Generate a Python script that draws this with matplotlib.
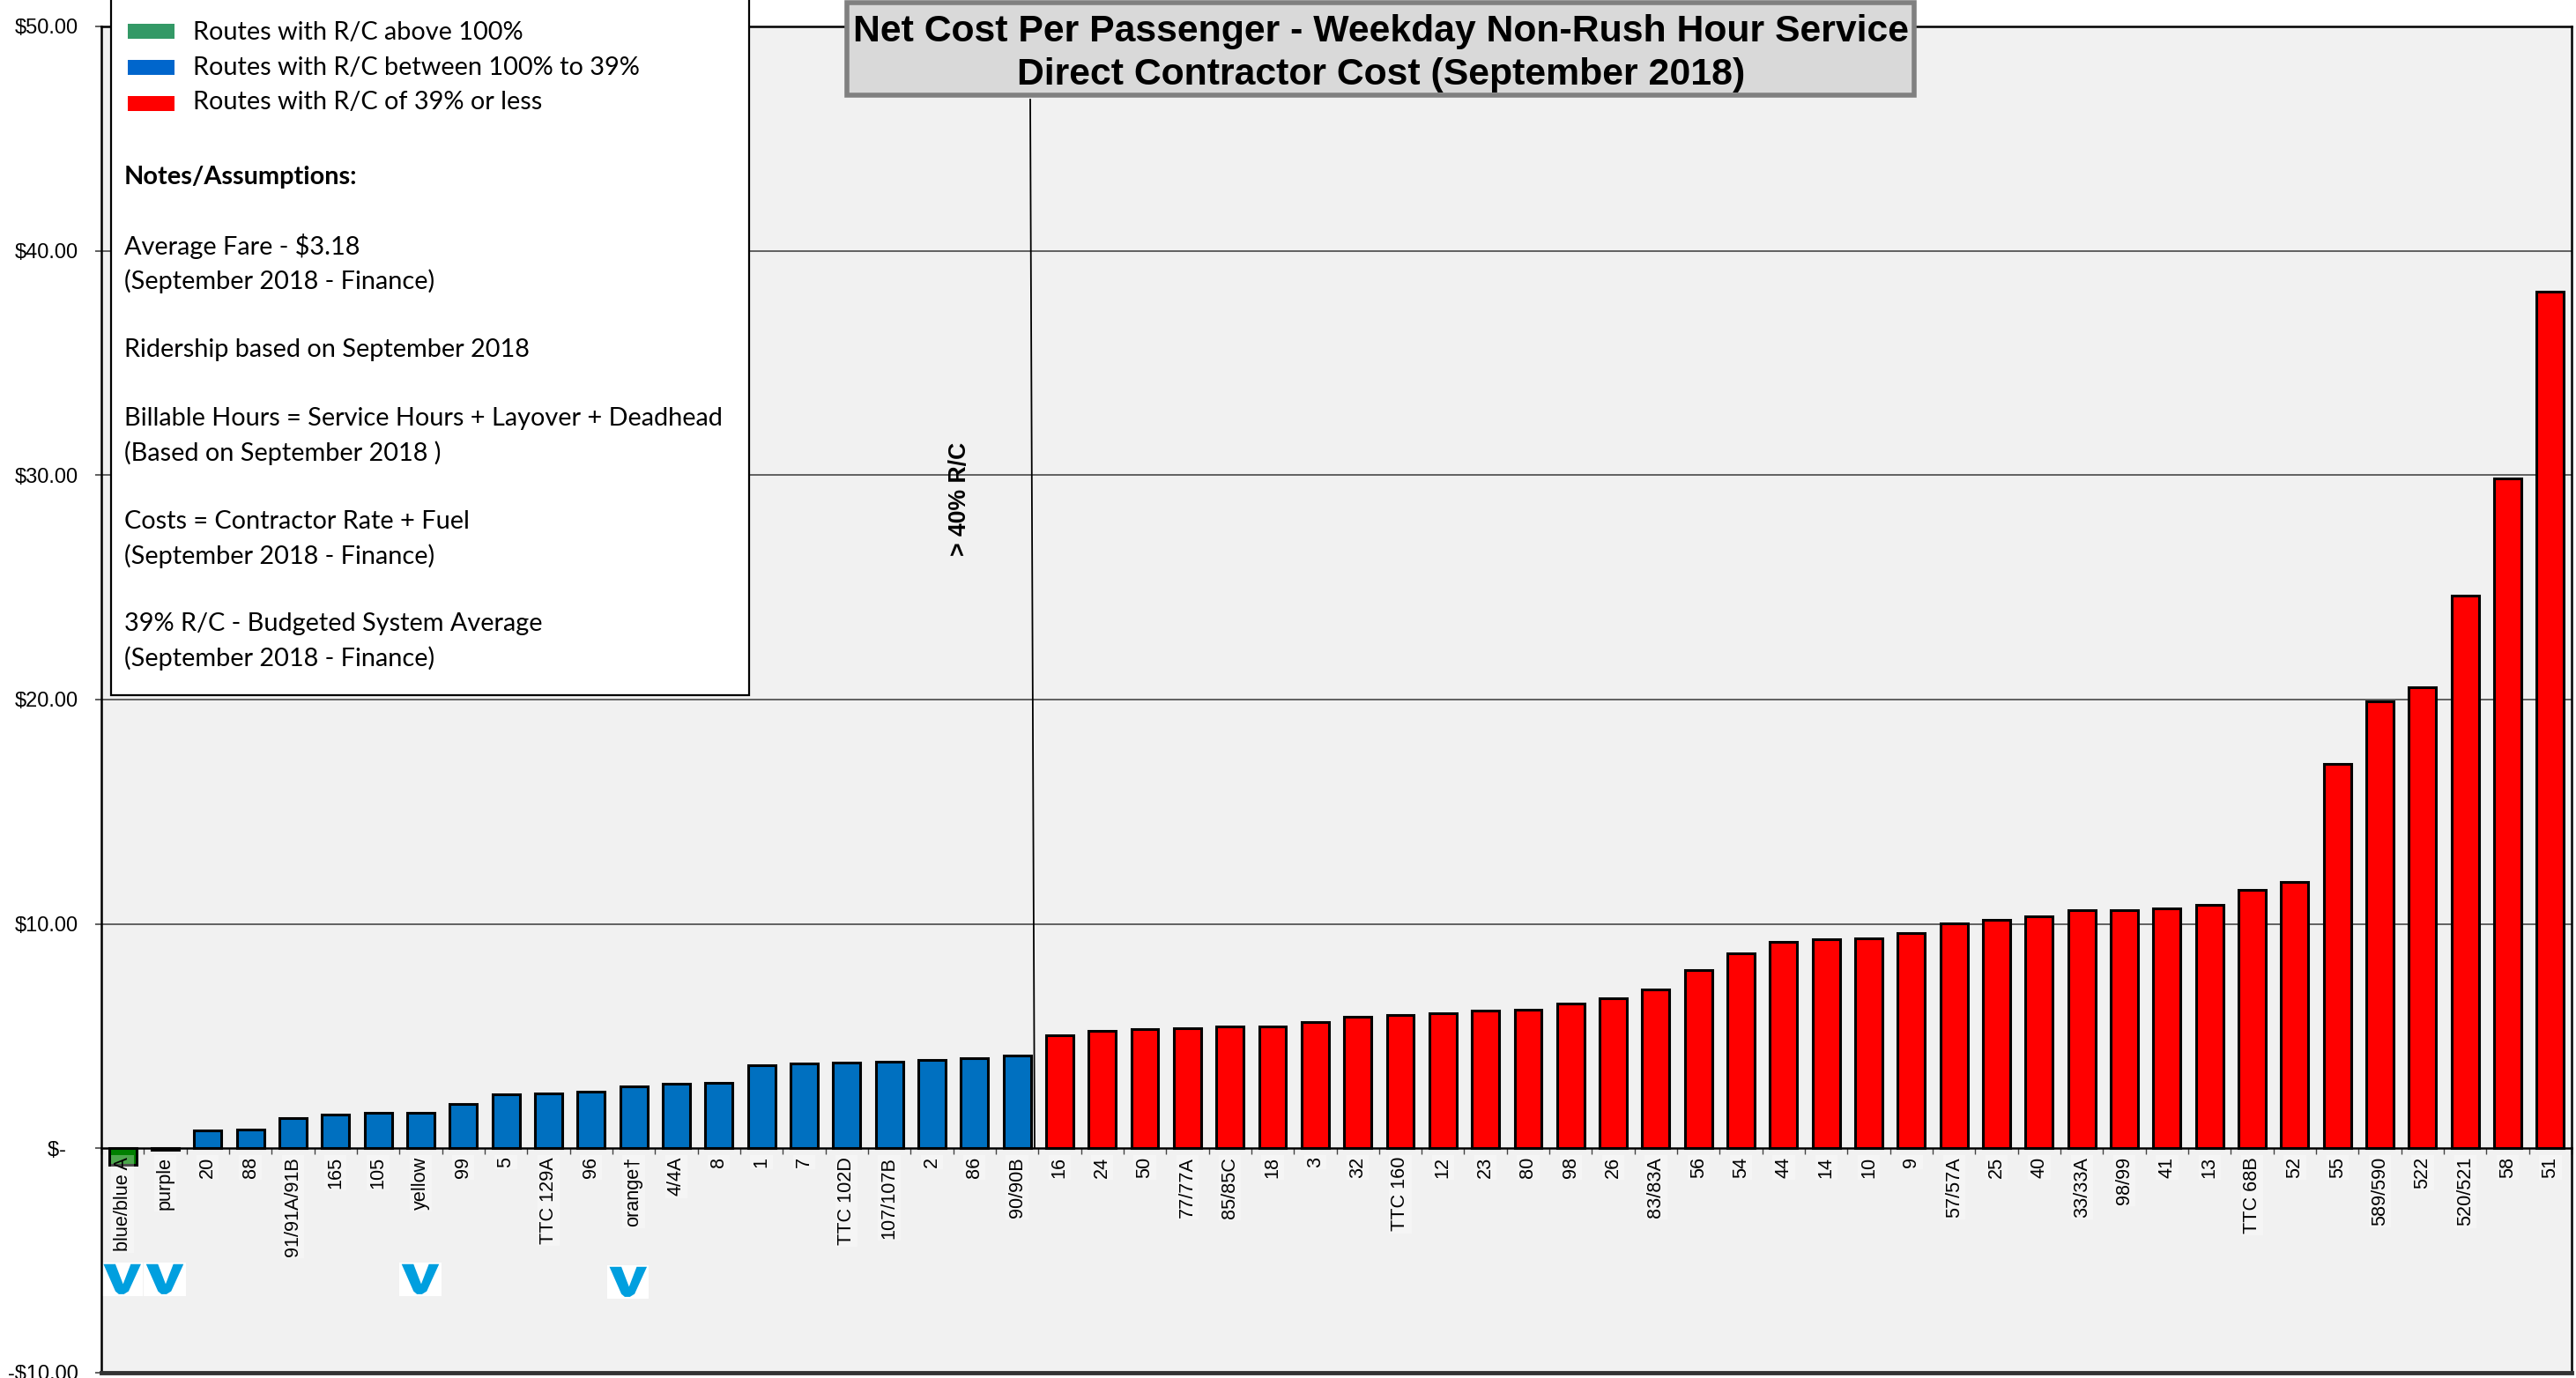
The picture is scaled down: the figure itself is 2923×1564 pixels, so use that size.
import matplotlib
matplotlib.use('Agg')
import matplotlib.pyplot as plt
from matplotlib.patches import Rectangle, Polygon
from matplotlib.lines import Line2D
import numpy as np

routes = ['blue/blue A', 'purple', '20', '88', '91/91A/91B', '165', '105', 'yellow', '99', '5',
          'TTC 129A', '96', 'orange†', '4/4A', '8', '1', '7', 'TTC 102D', '107/107B', '2', '86', '90/90B',
          '16', '24', '50', '77/77A', '85/85C', '18', '3', '32', 'TTC 160', '12', '23', '80', '98', '26',
          '83/83A', '56', '54', '44', '14', '10', '9', '57/57A', '25', '40', '33/33A', '98/99', '41', '13',
          'TTC 68B', '52', '55', '589/590', '522', '520/521', '58', '51']
net_cost = [-0.75, -0.08, 0.78, 0.85, 1.35, 1.50, 1.58, 1.60, 1.98, 2.41,
            2.45, 2.53, 2.76, 2.89, 2.92, 3.72, 3.80, 3.82, 3.87, 3.93, 4.03, 4.15,
            5.05, 5.22, 5.30, 5.35, 5.43, 5.45, 5.63, 5.88, 5.95, 6.03, 6.15, 6.18, 6.45, 6.67,
            7.07, 7.95, 8.70, 9.20, 9.30, 9.35, 9.60, 10.02, 10.20, 10.33, 10.60, 10.62, 10.68, 10.85,
            11.50, 11.87, 17.15, 19.92, 20.55, 24.65, 29.85, 38.20]
n_green = 1
n_blue = 21
viva_routes = ['blue/blue A', 'purple', 'yellow', 'orange†']

y_ticks = [-10, 0, 10, 20, 30, 40, 50]
y_labels = ['-$10.00', '$-  ', '$10.00', '$20.00', '$30.00', '$40.00', '$50.00']

legend_items = ['Routes with R/C above 100%', 'Routes with R/C between 100% to 39%', 'Routes with R/C of 39% or less']
legend_colors = ['#339966', '#0066CC', '#FF0000']
notes = [('Notes/Assumptions:', 201, True),
         ('Average Fare - $3.18', 280, False),
         ('(September 2018 - Finance)', 319, False),
         ('Ridership based on September 2018', 397, False),
         ('Billable Hours = Service Hours + Layover + Deadhead', 475, False),
         ('(Based on September 2018 )', 514, False),
         ('Costs = Contractor Rate + Fuel', 592, False),
         ('(September 2018 - Finance)', 631, False),
         ('39% R/C - Budgeted System Average', 708, False),
         ('(September 2018 - Finance)', 747, False)]

W, H = 2923, 1564
plt.rcParams['font.family'] = ['Liberation Sans', 'DejaVu Sans']
fig = plt.figure(figsize=(W / 100, H / 100), dpi=100, facecolor='white')


def fx(x):
    return x / W


def fy(y):
    return 1 - y / H


left, right, top, bottom = 115, 2918, 30, 1558
ax = fig.add_axes([fx(left), fy(bottom), fx(right) - fx(left), fy(top) - fy(bottom)])
ax.set_facecolor('#F1F1F1')

x = np.arange(len(routes))
colors = ['#008000'] * n_green + ['#0070C0'] * n_blue + ['#FF0000'] * (len(routes) - n_green - n_blue)
ax.bar(x, net_cost, width=0.64, color=colors, edgecolor='black', linewidth=2.2, zorder=1)
ax.hlines([10, 20, 30, 40], -0.5, len(routes) - 0.5, color='#555555', linewidth=1.3, zorder=0.5)

ax.set_xlim(-0.5, len(routes) - 0.5)
ax.set_ylim(-10, 50)
ax.set_yticks(y_ticks)
ax.set_yticklabels(y_labels, fontsize=17, color='black')
ax.tick_params(axis='y', length=5, width=1.2, pad=14, color='#444444')

# x axis sits on the zero line, ticks between the bars
ax.spines['bottom'].set_position(('data', 0))
ax.set_xticks(np.arange(len(routes) + 1) - 0.5)
ax.set_xticklabels([])
ax.set_xticks(x, minor=True)
ax.set_xticklabels(routes, minor=True, rotation=90, fontsize=15.6, ha='center', va='top')
ax.tick_params(axis='x', which='major', length=5, width=1, color='#444444')
ax.tick_params(axis='x', which='minor', length=0, pad=7)
for lab in ax.get_xticklabels(minor=True):
    lab.set_bbox(dict(facecolor='white', edgecolor='none', alpha=0.3, pad=1.5))
for s in ax.spines.values():
    s.set_linewidth(1.8)
ax.plot([-0.5, len(routes) - 0.5], [-10, -10], color='#333333', linewidth=3.5, clip_on=False, zorder=3)

# viva logos under the route labels
for route in viva_routes:
    i = routes.index(route)
    off = -0.12 if route == 'orange†' else 0
    y0 = -5.1 if route != 'orange†' else -5.22
    ax.add_patch(Rectangle((i - 0.5 + off, y0 - 1.48), 0.98, 1.48, facecolor='white', edgecolor='none', zorder=2))
    cx = i + off - 0.01
    v = [(cx - 0.44, y0 - 0.06), (cx - 0.16, y0 - 0.06), (cx + 0.02, y0 - 0.95), (cx + 0.2, y0 - 0.06),
         (cx + 0.44, y0 - 0.06), (cx + 0.15, y0 - 1.27), (cx + 0.04, y0 - 1.4), (cx - 0.08, y0 - 1.4), (cx - 0.16, y0 - 1.27)]
    ax.add_patch(Polygon(v, closed=True, facecolor='#009FDF', edgecolor='none', zorder=2.2))

# notes box
fig.add_artist(Rectangle((fx(126), fy(789)), fx(850) - fx(126), fy(-6) - fy(789), transform=fig.transFigure,
                         facecolor='white', edgecolor='black', linewidth=1.6))
swatch_y = [(27, 44), (68, 85), (109, 126)]
legend_y = [37, 77, 116]
for label, c, (s0, s1), ly in zip(legend_items, legend_colors, swatch_y, legend_y):
    fig.add_artist(Rectangle((fx(145), fy(s1)), fx(198) - fx(145), fy(s0) - fy(s1), transform=fig.transFigure,
                             facecolor=c, edgecolor='none'))
    fig.text(fx(219), fy(ly), label, fontsize=20.8, family='Lato', va='center', ha='left', color='black')
for text, ny, is_bold in notes:
    fig.text(fx(141), fy(ny), text, fontsize=20.8, family='Lato', va='center', ha='left',
             fontweight='bold' if is_bold else 'normal', color='black')

# title box
fig.add_artist(Rectangle((fx(961), fy(108)), fx(2172) - fx(961), fy(3) - fy(108), transform=fig.transFigure,
                         facecolor='#D9D9D9', edgecolor='#808080', linewidth=4))
fig.text(fx(1567), fy(36), 'Net Cost Per Passenger - Weekday Non-Rush Hour Service', fontsize=30.8, fontweight='bold',
         ha='center', va='center', color='black')
fig.text(fx(1567), fy(85), 'Direct Contractor Cost (September 2018)', fontsize=30.8, fontweight='bold',
         ha='center', va='center', color='black')

# 40% R/C divider
fig.add_artist(Line2D([fx(1169), fx(1174)], [fy(113), fy(1303)], transform=fig.transFigure, color='black', linewidth=1.3))
fig.text(fx(1089), fy(566), '> 40% R/C', fontsize=19.2, fontweight='bold', rotation=90, ha='center', va='center', color='black')

fig.savefig('out.png', dpi=100)
